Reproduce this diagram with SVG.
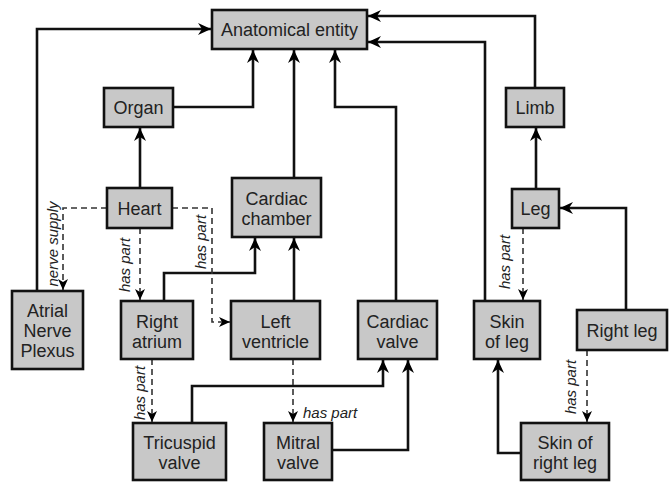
<svg xmlns="http://www.w3.org/2000/svg" width="669" height="482" viewBox="0 0 669 482">
<style>
.n rect{fill:#c8c8c8;stroke:#111;stroke-width:2.6}
.n text{font-family:"Liberation Sans",Arial,sans-serif;font-size:18px;fill:#222;text-anchor:middle}
.c path{fill:none;stroke:#111;stroke-width:2.6}
.c path.d{stroke-width:1.6;stroke-dasharray:6,4;stroke:#333}
.lbl{font-family:"Liberation Sans",Arial,sans-serif;font-size:15px;font-style:italic;fill:#222}
</style>
<defs>
<marker id="a" markerUnits="userSpaceOnUse" markerWidth="14" markerHeight="12" refX="13" refY="6" orient="auto">
<path d="M0,0 L13,6 L0,12 L4,6 z" fill="#000"/>
</marker>
<marker id="ad" markerUnits="userSpaceOnUse" markerWidth="12" markerHeight="10" refX="11" refY="5" orient="auto">
<path d="M0,0 L11,5 L0,10 L3,5 z" fill="#000"/>
</marker>
</defs>
<g class="c" id="connectors">
<path d="M37,291 V29 H211" marker-end="url(#a)"/>
<path d="M173,107 H253 V50" marker-end="url(#a)"/>
<path d="M140,188 V128" marker-end="url(#a)"/>
<path d="M294,178 V50" marker-end="url(#a)"/>
<path d="M396,301 V107 H335 V50" marker-end="url(#a)"/>
<path d="M535,88 V16 H368" marker-end="url(#a)"/>
<path d="M485,301 V42 H368" marker-end="url(#a)"/>
<path d="M536,189 V128" marker-end="url(#a)"/>
<path d="M626,310 V208 H560" marker-end="url(#a)"/>
<path d="M164,301 V273 H255 V238" marker-end="url(#a)"/>
<path d="M294,301 V238" marker-end="url(#a)"/>
<path d="M192,423 V386 H383 V360" marker-end="url(#a)"/>
<path d="M332,450 H408 V360" marker-end="url(#a)"/>
<path d="M521,453 H498 V360" marker-end="url(#a)"/>
<path class="d" d="M107,208 H63 V290" marker-end="url(#ad)"/>
<path class="d" d="M140,228 V300" marker-end="url(#ad)"/>
<path class="d" d="M172,208 H212 V322 H230" marker-end="url(#ad)"/>
<path class="d" d="M152,359 V422" marker-end="url(#ad)"/>
<path class="d" d="M293,359 V422" marker-end="url(#ad)"/>
<path class="d" d="M523,228 V300" marker-end="url(#ad)"/>
<path class="d" d="M587,350 V422" marker-end="url(#ad)"/>
<text class="lbl" transform="translate(58,244) rotate(-90)" text-anchor="middle">nerve supply</text>
<text class="lbl" transform="translate(130,265) rotate(-90)" text-anchor="middle">has part</text>
<text class="lbl" transform="translate(206,242) rotate(-90)" text-anchor="middle">has part</text>
<text class="lbl" transform="translate(145,393) rotate(-90)" text-anchor="middle">has part</text>
<text class="lbl" transform="translate(510,262) rotate(-90)" text-anchor="middle">has part</text>
<text class="lbl" transform="translate(576,387) rotate(-90)" text-anchor="middle">has part</text>
<text class="lbl" x="303" y="418">has part</text>
</g>
<g class="n" id="anatomical-entity"><rect x="212" y="10" width="155" height="39"/><text x="289.5" y="36">Anatomical entity</text></g>
<g class="n" id="organ"><rect x="104" y="88" width="69" height="39"/><text x="138.5" y="114">Organ</text></g>
<g class="n" id="limb"><rect x="506" y="88" width="58" height="39"/><text x="535" y="114">Limb</text></g>
<g class="n" id="heart"><rect x="107" y="188" width="65" height="40"/><text x="139.5" y="215">Heart</text></g>
<g class="n" id="cardiac-chamber"><rect x="232" y="178" width="89" height="59"/><text x="276.5" y="205">Cardiac</text><text x="276.5" y="225">chamber</text></g>
<g class="n" id="leg"><rect x="512" y="189" width="47" height="39"/><text x="535.5" y="215">Leg</text></g>
<g class="n" id="atrial-nerve-plexus"><rect x="12" y="291" width="71" height="78"/><text x="47.5" y="317">Atrial</text><text x="47.5" y="337">Nerve</text><text x="47.5" y="357">Plexus</text></g>
<g class="n" id="right-atrium"><rect x="121" y="301" width="72" height="58"/><text x="157" y="328">Right</text><text x="157" y="348">atrium</text></g>
<g class="n" id="left-ventricle"><rect x="231" y="301" width="89" height="58"/><text x="275.5" y="328">Left</text><text x="275.5" y="348">ventricle</text></g>
<g class="n" id="cardiac-valve"><rect x="358" y="301" width="79" height="58"/><text x="397.5" y="328">Cardiac</text><text x="397.5" y="348">valve</text></g>
<g class="n" id="skin-of-leg"><rect x="474" y="301" width="66" height="58"/><text x="507" y="328">Skin</text><text x="507" y="348">of leg</text></g>
<g class="n" id="right-leg"><rect x="577" y="310" width="90" height="40"/><text x="622" y="337">Right leg</text></g>
<g class="n" id="tricuspid-valve"><rect x="133" y="423" width="93" height="57"/><text x="179.5" y="449">Tricuspid</text><text x="179.5" y="469">valve</text></g>
<g class="n" id="mitral-valve"><rect x="264" y="423" width="68" height="57"/><text x="298" y="449">Mitral</text><text x="298" y="469">valve</text></g>
<g class="n" id="skin-of-right-leg"><rect x="521" y="423" width="88" height="57"/><text x="565" y="449">Skin of</text><text x="565" y="469">right leg</text></g>
</svg>
